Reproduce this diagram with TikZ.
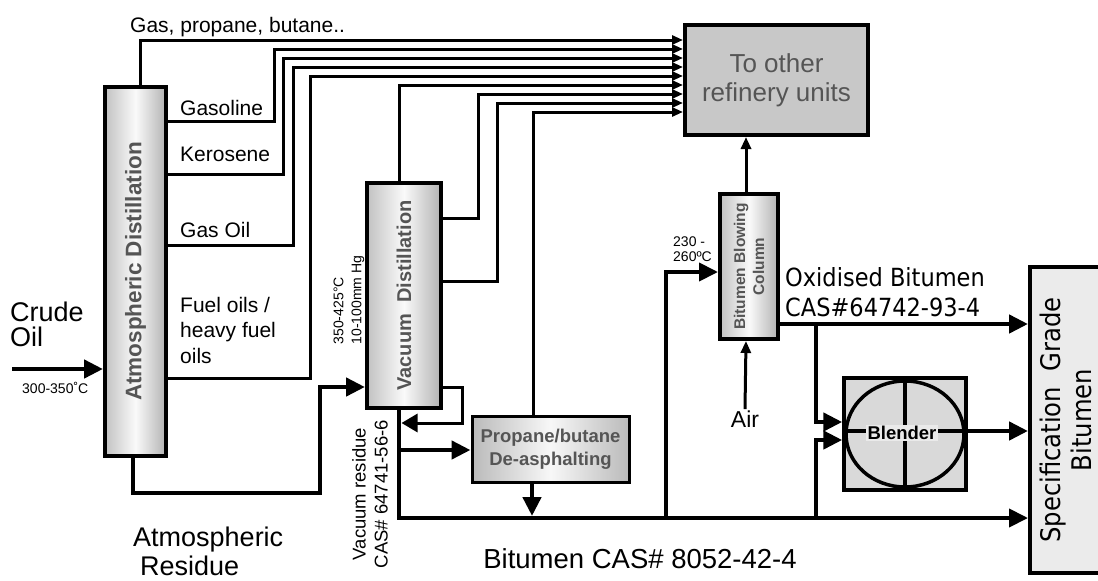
\documentclass[tikz,border=0pt]{standalone}
\usepackage{fontspec}
\setmainfont{Liberation Sans}
\newfontfamily\verdfont[FakeStretch=0.9]{DejaVu Sans}
\usetikzlibrary{arrows.meta}
\definecolor{txtgray}{HTML}{555555}
\definecolor{othergray}{HTML}{C8C8C8}
\definecolor{blendgray}{HTML}{D9D9D9}
\definecolor{specgray}{HTML}{EBEBEB}
\definecolor{blendlbl}{HTML}{EAEAEA}
\begin{document}
\begin{tikzpicture}[x=1pt,y=-1pt,
  thinl/.style={line width=3pt},
  thickl/.style={line width=4.5pt},
  tarr/.style={-{Triangle[length=11pt,width=9pt]}},
  barr/.style={-{Triangle[length=19pt,width=18pt]}},
  col/.style={draw, line width=4pt, inner sep=0pt, left color=black!24, right color=black!30, middle color=black!2},
  lbl/.style={inner sep=0pt, font=\fontsize{21}{25.5}\selectfont, align=left, anchor=north west},
  coltext/.style={rotate=90, inner sep=0pt, text=txtgray, font=\bfseries\fontsize{20}{24}\selectfont},
 ]
\fill[white] (0,0) rectangle (1098,581);
\useasboundingbox (0,0) rectangle (1098,581);

% ---- main blocks
\node[col, minimum width=61pt, minimum height=369pt] (AD) at (135.5,271.5) {};
\node[coltext, font=\bfseries\fontsize{22.5}{26}\selectfont] (tAD) at (AD.center) {Atmospheric Distillation};
\node[col, minimum width=74pt, minimum height=225pt] (VD) at (404,295.5) {};
\node[coltext] (tVD) at (VD.center) {Vacuum\ \ Distillation};
\node[col, minimum width=58pt, minimum height=145pt] (BBC) at (749,266.5) {};
\node[coltext, align=center, font=\bfseries\fontsize{15.5}{19}\selectfont] (tBBC) at (BBC.center) {Bitumen Blowing\\Column};
\node[col, line width=3pt, left color=black!27, right color=black!27, middle color=black!3, minimum width=157pt, minimum height=66pt] (PB) at (550.5,449) {};
\node[align=center, inner sep=0pt, text=txtgray, font=\bfseries\fontsize{18.5}{23}\selectfont] (tPB) at (PB.center) {Propane/butane\\De-asphalting};
\node[draw, line width=4pt, fill=othergray, inner sep=0pt, minimum width=183pt, minimum height=110pt] (other) at (776.5,80) {};
\node[align=center, inner sep=0pt, text=txtgray, font=\fontsize{26}{29}\selectfont] (tother) at (other.center) {To other\\refinery units};
\node[draw, line width=3.5pt, fill=blendgray, inner sep=0pt, minimum width=122pt, minimum height=112pt] (Bl) at (905,434) {};
\draw[line width=3.5pt] (Bl.center) ellipse [x radius=59, y radius=53];
\draw[line width=3.5pt] (905,381) -- (905,487);
\draw[line width=3.5pt] (846,431) -- (964,431);
\node[fill=blendlbl, inner sep=1.5pt, font=\bfseries\fontsize{18.5}{22}\selectfont] (tBl) at (902,433) {Blender};
\node[draw, line width=4pt, fill=specgray, inner sep=0pt, minimum width=80pt, minimum height=306pt] (Spec) at (1070,420) {};
\node[rotate=90, align=center, inner sep=0pt, font=\verdfont\fontsize{27}{31}\selectfont] (tSpec) at (1066,420) {Specification\ \ Grade\\Bitumen};

% ---- labels
\node[lbl] (lgas) at (130,17) {Gas, propane, butane..};
\node[lbl] (lgasol) at (180,100) {Gasoline};
\node[lbl] (lkero) at (180,147) {Kerosene};
\node[lbl] (lgo) at (180,222) {Gas Oil};
\node[lbl] (lfuel) at (180,297) {Fuel oils /\\heavy fuel\\oils};
\node[lbl, font=\fontsize{27}{25}\selectfont] (lcrude) at (10,302) {Crude\\Oil};
\node[lbl, font=\fontsize{14}{16}\selectfont] (ltemp) at (22,382) {300-350˚C};
\node[lbl, font=\fontsize{27}{29}\selectfont] (lar) at (133,527) {Atmospheric\\\hspace*{7pt}Residue};
\node[inner sep=0pt, anchor=base, font=\fontsize{27.5}{30}\selectfont] (lbit) at (640,568) {Bitumen CAS\# 8052-42-4};
\node[lbl, font=\verdfont\fontsize{25}{30}\selectfont] (lox) at (785,267) {Oxidised Bitumen\\CAS\#64742-93-4};
\node[inner sep=1pt, anchor=base, font=\fontsize{23}{26}\selectfont] (air) at (745,427) {Air};
\node[lbl, font=\fontsize{14}{15}\selectfont] (l230) at (673,237) {230 -\\260ºC};
\node[rotate=90, align=left, inner sep=0pt, font=\fontsize{14}{18}\selectfont] (lvdt) at (349,300) {350-425°C\\10-100mm Hg};
\node[rotate=90, align=center, inner sep=0pt, font=\fontsize{18.5}{22}\selectfont] (lvr) at (370,494) {Vacuum residue\\CAS\# 64741-56-6};

% ---- coordinates for free ends / junctions
\coordinate (crude) at (12,369);
\coordinate (jPB) at (399,450);
\coordinate (jBB) at (666,518);
\coordinate (jOx) at (816,324);
\coordinate (jBot) at (816,518);

% ---- thin lines to other refinery units
\draw[thinl,tarr] (140,0 |- AD.north) |- (other.west |- 0,40);
\draw[thinl,tarr] (AD.east |- 0,121) -| (274,49) -- (other.west |- 0,49);
\draw[thinl,tarr] (AD.east |- 0,174) -| (283,58) -- (other.west |- 0,58);
\draw[thinl,tarr] (AD.east |- 0,245) -| (293,67) -- (other.west |- 0,67);
\draw[thinl,tarr] (AD.east |- 0,378) -| (310,76) -- (other.west |- 0,76);
\draw[thinl,tarr] (399,0 |- VD.north) |- (other.west |- 0,85);
\draw[thinl,tarr] (VD.east |- 0,218) -| (478,94) -- (other.west |- 0,94);
\draw[thinl,tarr] (VD.east |- 0,281) -| (497,103) -- (other.west |- 0,103);
\draw[thinl,tarr] (533,0 |- PB.north) |- (other.west |- 0,112);

% ---- vacuum loop
\draw[thinl,-{Triangle[length=16pt,width=18pt]}] (VD.east |- 0,387) -| (462,423) -- (401.5,423);

% ---- thick flows
\draw[thickl,barr] (crude) -- (AD.west |- crude);
\draw[thickl,barr] (133,0 |- AD.south) |- (320,493) |- (VD.west |- 0,387);
\draw[line width=4pt,barr] (399,0 |- VD.south) |- (Spec.west |- 0,518);
\draw[thickl,barr] (jPB) -- (PB.west |- jPB);
\draw[thickl,barr] (532,0 |- PB.south) -- (532,516);
\draw[line width=4pt,barr] (jBB) |- (BBC.west |- 0,272);
\draw[thinl,-{Triangle[length=12pt,width=10pt]}] (746,0 |- BBC.north) -- (746,0 |- other.south);
\draw[thinl,-{Triangle[length=12pt,width=10pt]}] (air.north) -- (746,0 |- BBC.south);
\draw[thickl,barr] (BBC.east |- jOx) -- (Spec.west |- jOx);
\draw[thickl,barr] (jOx) |- (Bl.west |- 0,422);
\draw[thickl,barr] (jBot) |- (Bl.west |- 0,440);
\draw[thickl,barr] (Bl.east |- 0,431) -- (Spec.west |- 0,431);
\end{tikzpicture}
\end{document}
